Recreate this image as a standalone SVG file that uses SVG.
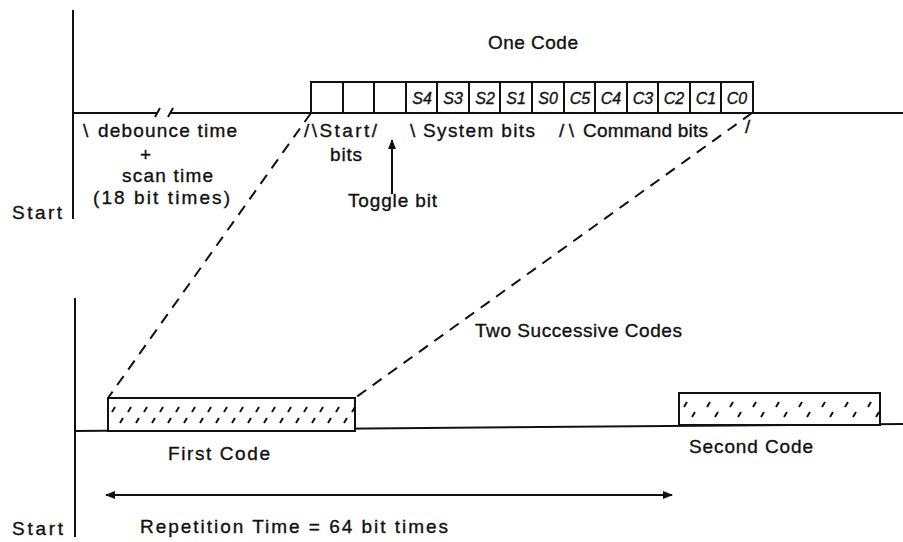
<svg xmlns="http://www.w3.org/2000/svg" width="903" height="542" viewBox="0 0 903 542">
<style>
text{font-family:"Liberation Sans Narrow","Liberation Sans",Arial,sans-serif;font-size:19px;fill:#111;stroke:#111;stroke-width:0.35}
.cell{font-size:16px;font-style:italic;text-anchor:middle}
.ln{stroke:#111;stroke-width:2;fill:none}
.dash{stroke:#111;stroke-width:2;fill:none;stroke-dasharray:11 8}
.box{stroke:#111;stroke-width:2;fill:#fff}
</style>
<defs>
<pattern id="hatchA" patternUnits="userSpaceOnUse" x="108" y="398" width="16" height="33">
<path d="M4,14 L7,9 M12,25 L15,20" stroke="#111" stroke-width="2" fill="none"/>
</pattern>
<pattern id="hatchB" patternUnits="userSpaceOnUse" x="679" y="393" width="23" height="31">
<path d="M5,14 L8,9 M13,24 L16,19" stroke="#111" stroke-width="2" fill="none"/>
</pattern>
<marker id="ahEnd" markerWidth="10" markerHeight="8" refX="9" refY="4" orient="auto" markerUnits="userSpaceOnUse">
<path d="M0,0 L10,4 L0,8 Z" fill="#111"/>
</marker>
<marker id="ahStart" markerWidth="10" markerHeight="8" refX="1" refY="4" orient="auto" markerUnits="userSpaceOnUse">
<path d="M10,0 L0,4 L10,8 Z" fill="#111"/>
</marker>
</defs>

<g id="top-axis">
<line class="ln" x1="73" y1="10" x2="73" y2="219"/>
<path class="ln" d="M73,113 H158 M170,113 H903"/>
<path class="ln" d="M155,117 L160,108 M168,117 L173,108" stroke-width="1.6"/>
<text x="12" y="219" textLength="50">Start</text>
</g>

<g id="one-code">
<text x="488" y="49" textLength="90">One Code</text>
<g id="register">
<rect class="box" x="311" y="82" width="442" height="31"/>
<path class="ln" d="M343,82V113 M374,82V113 M406,82V113 M437,82V113 M469,82V113 M500,82V113 M532,82V113 M564,82V113 M595,82V113 M627,82V113 M658,82V113 M690,82V113 M721,82V113"/>
<text class="cell" x="422" y="104">S4</text>
<text class="cell" x="453" y="104">S3</text>
<text class="cell" x="485" y="104">S2</text>
<text class="cell" x="516" y="104">S1</text>
<text class="cell" x="548" y="104">S0</text>
<text class="cell" x="580" y="104">C5</text>
<text class="cell" x="611" y="104">C4</text>
<text class="cell" x="643" y="104">C3</text>
<text class="cell" x="674" y="104">C2</text>
<text class="cell" x="706" y="104">C1</text>
<text class="cell" x="737" y="104">C0</text>
</g>
</g>

<g id="debounce">
<text x="83" y="137">\</text>
<text x="98" y="137" textLength="139">debounce time</text>
<text x="140" y="161" font-size="16">+</text>
<text x="122" y="182" textLength="91">scan time</text>
<text x="93" y="204" textLength="137">(18 bit times)</text>
</g>

<g id="start-bits">
<text x="304" y="137" textLength="73">/\Start/</text>
<text x="330" y="161" textLength="32">bits</text>
</g>

<g id="toggle-bit">
<line class="ln" x1="392" y1="194" x2="392" y2="140" marker-end="url(#ahEnd)"/>
<text x="348" y="207" textLength="89">Toggle bit</text>
</g>

<g id="system-bits">
<text x="410" y="137">\</text>
<text x="423" y="137" textLength="112">System bits</text>
</g>

<g id="command-bits">
<text x="559" y="137" textLength="15">/\</text>
<text x="583" y="137" textLength="125">Command bits</text>
<text x="745" y="133">/</text>
</g>

<g id="bottom-axis">
<line class="ln" x1="75" y1="298" x2="75" y2="537"/>
<line class="ln" x1="75" y1="431" x2="903" y2="424"/>
<text x="12" y="535" textLength="51">Start</text>
<text x="475" y="337" textLength="207">Two Successive Codes</text>
</g>

<g id="first-code">
<rect class="box" x="108" y="398" width="247" height="33"/>
<rect x="109" y="399" width="245" height="31" fill="url(#hatchA)"/>
<text x="168" y="460" textLength="102">First Code</text>
</g>

<g id="second-code">
<rect class="box" x="679" y="393" width="201" height="32"/>
<rect x="680" y="394" width="199" height="30" fill="url(#hatchB)"/>
<text x="689" y="453" textLength="124">Second Code</text>
</g>

<g id="connectors">
<line class="dash" x1="311" y1="113" x2="108" y2="398"/>
<line class="dash" x1="752" y1="113" x2="355" y2="398"/>
<line class="ln" x1="106" y1="495" x2="672" y2="495" marker-start="url(#ahStart)" marker-end="url(#ahEnd)"/>
</g>

<g id="repetition">
<text x="140" y="533" textLength="308">Repetition Time = 64 bit times</text>
</g>
</svg>
